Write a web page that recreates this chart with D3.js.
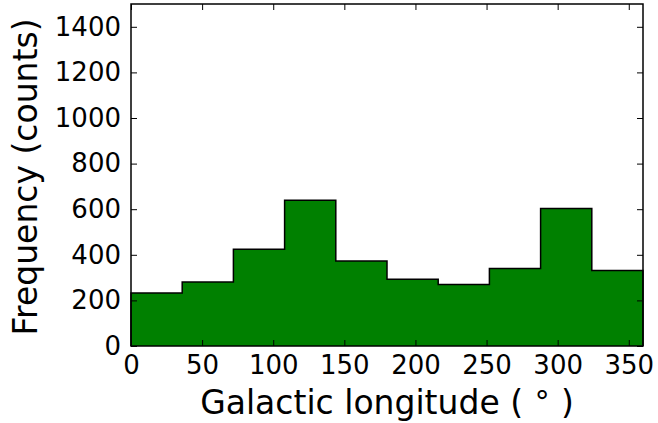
<!DOCTYPE html>
<html>
<head>
<meta charset="utf-8">
<script src="https://cdn.jsdelivr.net/npm/d3@7"></script>
<style>
  body { margin: 0; background: #fff; }
  svg { display: block; font-family: "DejaVu Sans", sans-serif; }
</style>
</head>
<body>
<svg class="hist" width="658" height="423"></svg>
<script>
// bin edges (degrees) and counts per bin
var binEdges = [0, 36, 72, 108, 144, 180, 216, 252, 288, 324, 360];
var counts = [233, 281, 424, 639, 373, 293, 270, 340, 603, 331];
var xTicks = [0, 50, 100, 150, 200, 250, 300, 350];
var yTicks = [0, 200, 400, 600, 800, 1000, 1200, 1400];

(function histIIFE(){
    var svg = d3.select("svg.hist"),
        margin = {top: 4, right: 15, bottom: 77, left: 131},
        width = +svg.attr("width") - margin.left - margin.right,
        height = +svg.attr("height") - margin.top - margin.bottom;

    var x = d3.scaleLinear().domain([0, 360]).range([0, width]),
        y = d3.scaleLinear().domain([0, 1500]).range([height, 0]);

    var g = svg.append("g")
        .attr("transform", "translate(" + margin.left + "," + margin.top + ")");

    // step outline of the histogram
    var pts = [[binEdges[0], 0]];
    counts.forEach(function(c, i) {
        pts.push([binEdges[i], c]);
        pts.push([binEdges[i + 1], c]);
    });
    pts.push([binEdges[binEdges.length - 1], 0]);

    var line = d3.line()
        .x(function(d) { return x(d[0]); })
        .y(function(d) { return y(d[1]); });

    g.append("path")
        .datum(pts)
        .attr("d", line)
        .attr("fill", "#008000")
        .attr("stroke", "#000")
        .attr("stroke-width", 1.5)
        .attr("stroke-linejoin", "miter");

    // ticks inward on all four sides
    var tl = 6;
    function styleAxis(sel) {
        sel.attr("font-family", null).attr("font-size", null);
        sel.select(".domain").remove();
        sel.selectAll(".tick line").attr("stroke", "#000").attr("stroke-width", 1);
        sel.selectAll(".tick text").attr("fill", "#000")
            .style("font-family", "'DejaVu Sans', sans-serif")
            .style("font-size", "26px");
    }

    g.append("g")
        .attr("transform", "translate(0," + height + ")")
        .call(d3.axisBottom(x).tickValues(xTicks).tickSize(-tl).tickPadding(10).tickFormat(d3.format("d")))
        .call(styleAxis)
        .selectAll(".tick text").attr("dy", "0.71em");

    g.append("g")
        .call(d3.axisTop(x).tickValues(xTicks).tickSize(-tl).tickFormat(""))
        .call(styleAxis);

    g.append("g")
        .call(d3.axisLeft(y).tickValues(yTicks).tickSize(-tl).tickPadding(10).tickFormat(d3.format("d")))
        .call(styleAxis);

    g.append("g")
        .attr("transform", "translate(" + width + ",0)")
        .call(d3.axisRight(y).tickValues(yTicks).tickSize(-tl).tickFormat(""))
        .call(styleAxis);

    // frame
    g.append("rect")
        .attr("width", width)
        .attr("height", height)
        .attr("fill", "none")
        .attr("stroke", "#000")
        .attr("stroke-width", 1.5);

    var xl = svg.append("text")
        .attr("x", margin.left + width / 2)
        .attr("y", 414)
        .attr("text-anchor", "middle")
        .style("font-size", "33px");
    xl.append("tspan").text("Galactic longitude (");
    xl.append("tspan").attr("dy", -10).style("font-size", "30px").text(" \u2218 ");
    xl.append("tspan").attr("dy", 10).text(")");

    svg.append("text")
        .attr("transform", "translate(37,177) rotate(-90)")
        .attr("text-anchor", "middle")
        .style("font-size", "33px")
        .text("Frequency (counts)");
})();
</script>
</body>
</html>
